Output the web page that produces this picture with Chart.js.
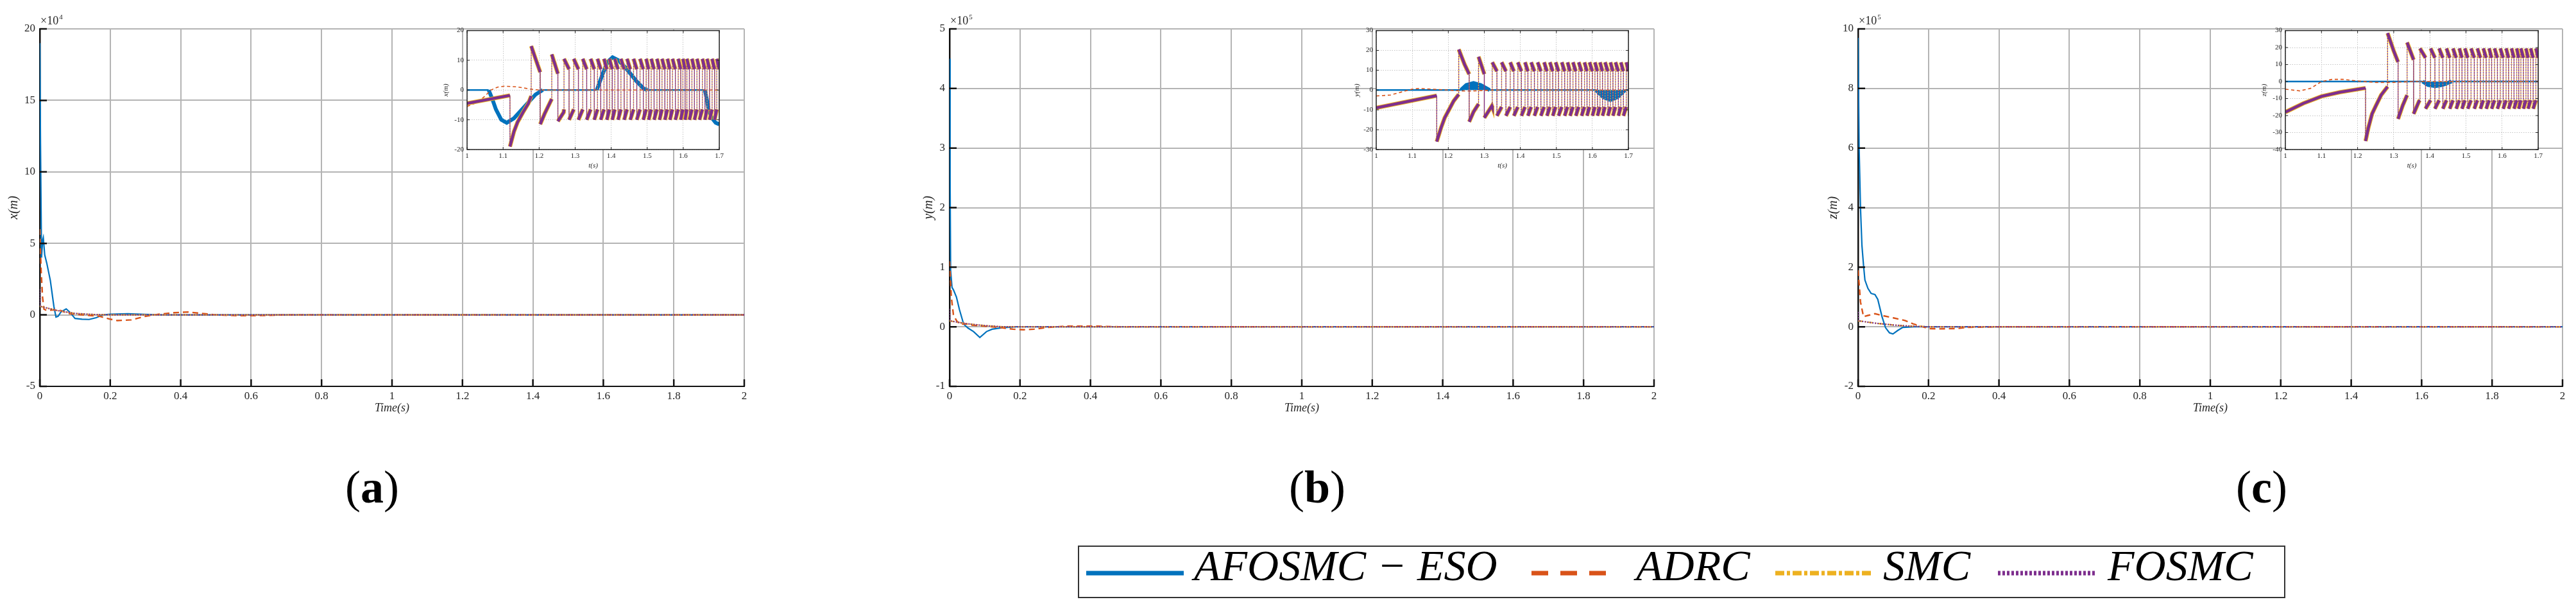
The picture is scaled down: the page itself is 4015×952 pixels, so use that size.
<!DOCTYPE html>
<html>
<head>
<meta charset="utf-8">
<script src="https://cdn.jsdelivr.net/npm/chart.js@4.4.1/dist/chart.umd.min.js"></script>
<style>
  html, body { margin: 0; padding: 0; background: #fff; width: 4015px; height: 952px; overflow: hidden; position: relative; font-family: "Liberation Serif", serif; }
  canvas { position: absolute; }
  .cap { position: absolute; font-size: 72px; line-height: 1; transform: translateX(-50%); color: #000; }
  #legend { position: absolute; left: 1680px; top: 850px; width: 1882px; height: 82px; border: 2px solid #333; box-sizing: border-box; }
  .lg { position: absolute; top: 847px; font-size: 68px; line-height: 1; font-style: italic; color: #000; white-space: nowrap; }
  svg.sw { position: absolute; top: 886px; height: 14px; }
</style>
</head>
<body>
<div id="legend"></div>
<svg class="sw" style="left:1693px;width:152px"><line x1="0" y1="7" x2="152" y2="7" stroke="#0072BD" stroke-width="7"/></svg>
<div class="lg" style="left:1861px">AFOSMC − ESO</div>
<svg class="sw" style="left:2387px;width:131px"><line x1="0" y1="7" x2="131" y2="7" stroke="#D95319" stroke-width="7" stroke-dasharray="26 19"/></svg>
<div class="lg" style="left:2550px">ADRC</div>
<svg class="sw" style="left:2767px;width:152px"><line x1="0" y1="7" x2="152" y2="7" stroke="#EDB120" stroke-width="7" stroke-dasharray="14 4 5 4"/></svg>
<div class="lg" style="left:2935px">SMC</div>
<svg class="sw" style="left:3114px;width:152px"><line x1="0" y1="7" x2="152" y2="7" stroke="#7E2F8E" stroke-width="7" stroke-dasharray="4 3"/></svg>
<div class="lg" style="left:3285px">FOSMC</div>
<div class="cap" style="left:580px;top:723px">(<b>a</b>)</div>
<div class="cap" style="left:2053px;top:723px">(<b>b</b>)</div>
<div class="cap" style="left:3525px;top:723px">(<b>c</b>)</div>
<script>
// ---- main plots, time axis 0..2 s (values in units of the axis multiplier)
const mainXTicks = [0, 0.2, 0.4, 0.6, 0.8, 1, 1.2, 1.4, 1.6, 1.8, 2];
const yTicksA = [-5, 0, 5, 10, 15, 20];
const yTicksB = [-1, 0, 1, 2, 3, 4, 5];
const yTicksC = [-2, 0, 2, 4, 6, 8, 10];

// (a) x, x10^4
const aBlueT = [0, 0.002, 0.005, 0.008, 0.010, 0.014, 0.020, 0.030, 0.040, 0.046, 0.052, 0.060, 0.075, 0.085, 0.100, 0.120, 0.140, 0.160, 0.180, 0.200, 0.250, 0.300, 0.350, 2];
const aBlueY = [19, 12, 4, 5.2, 5.4, 4.2, 3.6, 2.4, 0.6, -0.15, -0.1, 0.2, 0.42, 0.2, -0.25, -0.3, -0.32, -0.2, 0, 0.05, 0.08, 0.03, 0, 0];
const aOrgT = [0, 0.004, 0.008, 0.012, 0.02, 0.04, 0.06, 0.08, 0.12, 0.17, 0.2, 0.22, 0.26, 0.3, 0.34, 0.38, 0.42, 0.46, 0.5, 0.56, 0.62, 0.7, 2];
const aOrgY = [6, 3, 1.2, 0.4, 0.3, 0.35, 0.3, 0.1, 0, -0.1, -0.3, -0.4, -0.35, -0.1, 0.05, 0.15, 0.2, 0.1, 0, -0.05, -0.05, 0, 0];
const aSmcT = [0, 0.05, 0.1, 0.15, 0.2, 2];
const aSmcY = [0.6, 0.3, 0.1, 0.03, 0, 0];
const aFosT = [0, 0.0005, 0.05, 0.1, 0.15, 0.2, 2];
const aFosY = [1.8, 0.6, 0.3, 0.1, 0.03, 0, 0];

// (b) y, x10^5
const bBlueT = [0, 0.0015, 0.003, 0.007, 0.011, 0.0195, 0.028, 0.04, 0.052, 0.068, 0.086, 0.105, 0.121, 0.15, 0.19, 2];
const bBlueY = [4.5, 2.5, 0.95, 0.66, 0.62, 0.5, 0.29, 0.045, -0.02, -0.08, -0.18, -0.08, -0.04, -0.015, 0, 0];
const bOrgT = [0, 0.005, 0.011, 0.02, 0.03, 0.045, 0.06, 0.1, 0.14, 0.18, 0.21, 0.24, 0.28, 0.33, 0.37, 0.42, 0.48, 2];
const bOrgY = [1.1, 0.5, 0.2, 0.1, 0.04, 0.05, 0.03, 0.01, -0.01, -0.04, -0.05, -0.04, -0.01, 0.01, 0.01, 0.01, 0, 0];
const bSmcT = [0, 0.05, 0.1, 0.15, 2];
const bSmcY = [0.1, 0.05, 0.02, 0, 0];
const bFosT = [0, 0.0005, 0.05, 0.1, 0.15, 2];
const bFosY = [0.3, 0.1, 0.05, 0.02, 0, 0];

// (c) z, x10^5
const cBlueT = [0, 0.003, 0.007, 0.011, 0.0155, 0.0195, 0.028, 0.037, 0.048, 0.056, 0.068, 0.078, 0.089, 0.099, 0.113, 0.127, 0.16, 2];
const cBlueY = [9.7, 6.0, 3.97, 2.73, 2.07, 1.57, 1.29, 1.12, 1.08, 0.92, 0.34, -0.03, -0.2, -0.24, -0.12, -0.02, 0, 0];
const cOrgT = [0, 0.007, 0.0155, 0.028, 0.048, 0.068, 0.1, 0.133, 0.158, 0.2, 0.23, 0.28, 0.31, 0.4, 2];
const cOrgY = [1.9, 0.83, 0.34, 0.38, 0.44, 0.38, 0.3, 0.21, 0.09, -0.06, -0.07, -0.06, -0.02, 0, 0];
const cSmcT = [0, 0.05, 0.1, 0.15, 0.2, 2];
const cSmcY = [0.2, 0.12, 0.06, 0.02, 0, 0];
const cFosT = [0, 0.0005, 0.05, 0.1, 0.15, 0.2, 2];
const cFosY = [0.5, 0.2, 0.12, 0.06, 0.02, 0, 0];

// ---- zoomed insets, t = 1..1.7 s
const insetXTicks = [1, 1.1, 1.2, 1.3, 1.4, 1.5, 1.6, 1.7];
const insetYTicksA = [-20, -10, 0, 10, 20];
const insetYTicksB = [-30, -20, -10, 0, 10, 20, 30];
const insetYTicksC = [-40, -30, -20, -10, 0, 10, 20, 30];

const iaBlueT = [1, 1.06, 1.07, 1.08, 1.095, 1.11, 1.13, 1.16, 1.19, 1.21, 1.36, 1.375, 1.39, 1.404, 1.42, 1.44, 1.47, 1.49, 1.50, 1.66, 1.665, 1.67, 1.68, 1.69, 1.7];
const iaBlueY = [0, 0, -3, -6.5, -10, -11, -9.5, -5.5, -1.5, 0, 0, 5, 9.5, 11, 10, 7.5, 3, 0.5, 0, 0, -3, -6.5, -9.5, -11, -11.5];
const iaOrgT = [1, 1.028, 1.05, 1.066, 1.085, 1.104, 1.14, 1.175, 1.2, 1.7];
const iaOrgY = [-5.5, -4.2, -2, 0, 1, 1.3, 1.05, 0.35, 0, 0];
// sliding-mode chattering: start transient, then switching instants (up / down) and levels
const iaIrrT = [1, 1.119, 1.119, 1.13, 1.14, 1.155, 1.17, 1.178, 1.178, 1.19, 1.203, 1.203, 1.215, 1.235, 1.235, 1.252, 1.252, 1.268];
const iaIrrY = [-4.5, -1.8, -19, -14, -10.8, -7.5, -4.5, -2, 14.8, 10.5, 6, -11.5, -8, -3, 12, 5.5, -10.5, -7.5];
const iaUp = [1.269, 1.296, 1.321, 1.343, 1.362, 1.380, 1.395, 1.410, 1.427, 1.444, 1.462, 1.480, 1.497, 1.511, 1.527, 1.541, 1.556, 1.570, 1.586, 1.599, 1.610, 1.624, 1.638, 1.653, 1.666, 1.680, 1.693];
const iaDown = [1.283, 1.309, 1.332, 1.353, 1.371, 1.388, 1.403, 1.419, 1.436, 1.453, 1.471, 1.489, 1.504, 1.519, 1.534, 1.549, 1.563, 1.578, 1.593, 1.605, 1.617, 1.631, 1.645, 1.660, 1.673, 1.687, 1.700];
const iaLevels = [10.5, 7, -10, -6.5];

const ibBlueT = [1, 1.235, 1.25, 1.27, 1.29, 1.315, 1.61, 1.63, 1.65, 1.67, 1.69, 1.7];
const ibBlueY = [0, 0, 2.5, 3.5, 2.5, 0, 0, -3.5, -5, -3.5, 0, 0];
const ibOrgT = [1, 1.04, 1.07, 1.1, 1.12, 1.15, 1.2, 1.23, 1.26, 1.29, 1.32, 1.7];
const ibOrgY = [-3, -2.5, -1, 0.5, 0.8, 0.5, 0, -0.4, -0.5, -0.3, 0, 0];
const ibIrrT = [1, 1.168, 1.168, 1.18, 1.19, 1.2035, 1.215, 1.229, 1.229, 1.245, 1.258, 1.258, 1.27, 1.284, 1.284, 1.3, 1.3, 1.321];
const ibIrrY = [-9, -2.8, -26, -19, -14, -9.4, -5.5, -2.2, 20.5, 13, 8, -16, -11, -7, 16.8, 8, -14, -8];
const ibUp = [1.322, 1.348, 1.372, 1.393, 1.413, 1.430, 1.448, 1.466, 1.482, 1.498, 1.515, 1.531, 1.546, 1.562, 1.578, 1.592, 1.607, 1.621, 1.635, 1.650, 1.664, 1.679, 1.694];
const ibDown = [1.335, 1.360, 1.382, 1.403, 1.421, 1.439, 1.457, 1.474, 1.490, 1.506, 1.523, 1.538, 1.554, 1.570, 1.585, 1.600, 1.614, 1.628, 1.643, 1.657, 1.672, 1.686, 1.700];
const ibLevels = [14, 9.5, -13, -8.5];

const icBlueT = [1, 1.38, 1.395, 1.415, 1.435, 1.46, 1.7];
const icBlueY = [0, 0, -2, -2.7, -2, 0, 0];
const icOrgT = [1, 1.04, 1.07, 1.1, 1.13, 1.16, 1.2, 1.25, 1.3, 1.35, 1.7];
const icOrgY = [-4.5, -5.5, -4, 0, 1.3, 1.3, 0.3, -0.5, -0.5, 0, 0];
const icIrrT = [1, 1.05, 1.1, 1.15, 1.222, 1.222, 1.23, 1.24, 1.25, 1.265, 1.283, 1.283, 1.3, 1.312, 1.312, 1.325, 1.337, 1.337, 1.355, 1.355, 1.37];
const icIrrY = [-18, -12.8, -8.7, -6.3, -3.8, -35, -27, -19, -14.5, -8, -3, 28.5, 18, 11.5, -22, -14, -8, 23, 12.8, -19, -11.6];
const icUp = [1.3726, 1.402, 1.4256, 1.446, 1.464, 1.4815, 1.497, 1.514, 1.5315, 1.548, 1.564, 1.579, 1.595, 1.611, 1.626, 1.6405, 1.652, 1.666, 1.679, 1.6935];
const icDown = [1.388, 1.414, 1.436, 1.455, 1.473, 1.489, 1.505, 1.523, 1.540, 1.556, 1.571, 1.587, 1.603, 1.618, 1.633, 1.646, 1.659, 1.672, 1.686, 1.7];
const icLevels = [19.5, 14, -16, -11];

const BLUE = '#0072BD', ORANGE = '#D95319', YELLOW = '#EDB120', PURPLE = '#7E2F8E';

Chart.defaults.font.family = '"Liberation Serif", "Times New Roman", serif';
Chart.defaults.color = '#262626';

// inward tick marks, optional box and white plot background (insets)
Chart.register({
  id: 'inTicks',
  defaults: { len: 10, width: 2, color: '#111', box: false },
  beforeDraw(chart, args, o) {
    if (!o.box) return;
    const a = chart.chartArea, ctx = chart.ctx;
    ctx.save();
    ctx.fillStyle = '#fff';
    ctx.fillRect(a.left, a.top, a.width, a.height);
    ctx.restore();
  },
  afterDraw(chart, args, o) {
    const {ctx, chartArea: a} = chart;
    const x = chart.scales.x, y = chart.scales.y;
    ctx.save();
    ctx.strokeStyle = o.color;
    ctx.lineWidth = o.width;
    ctx.beginPath();
    x.ticks.forEach(t => {
      const px = x.getPixelForValue(t.value);
      ctx.moveTo(px, a.bottom); ctx.lineTo(px, a.bottom - o.len);
      if (o.box) { ctx.moveTo(px, a.top); ctx.lineTo(px, a.top + o.len); }
    });
    y.ticks.forEach(t => {
      const py = y.getPixelForValue(t.value);
      ctx.moveTo(a.left, py); ctx.lineTo(a.left + o.len, py);
      if (o.box) { ctx.moveTo(a.right, py); ctx.lineTo(a.right - o.len, py); }
    });
    ctx.stroke();
    if (o.box) {
      ctx.lineWidth = 1.5;
      ctx.strokeRect(a.left, a.top, a.width, a.height);
    }
    ctx.restore();
  }
});

// "x10^n" multiplier above the y axis
Chart.register({
  id: 'expLabel',
  defaults: { exp: '' },
  afterDraw(chart, args, o) {
    if (!o.exp) return;
    const {ctx, chartArea: a} = chart;
    ctx.save();
    ctx.fillStyle = '#262626';
    ctx.textBaseline = 'alphabetic';
    ctx.font = '18px "Liberation Serif"';
    ctx.fillText('×10', a.left + 1, a.top - 7);
    const w = ctx.measureText('×10').width;
    ctx.font = '11px "Liberation Serif"';
    ctx.fillText(o.exp, a.left + 2 + w, a.top - 15);
    ctx.restore();
  }
});

function pts(t, v) { return t.map((x, i) => ({x: x, y: v[i]})); }

function chatter(irrT, irrY, ups, downs, lv) {
  const p = pts(irrT, irrY);
  ups.forEach((u, i) => {
    p.push({x: u, y: lv[3]}, {x: u, y: lv[0]}, {x: downs[i], y: lv[1]}, {x: downs[i], y: lv[2]});
  });
  return p;
}

function addCanvas(left, top, w, h) {
  const c = document.createElement('canvas');
  c.width = w; c.height = h;
  c.style.left = left + 'px'; c.style.top = top + 'px';
  c.style.width = w + 'px'; c.style.height = h + 'px';
  document.body.appendChild(c);
  return c;
}

function line(data, color, width, dash, order) {
  return { data: data, borderColor: color, borderWidth: width, borderDash: dash, pointRadius: 0, tension: 0, fill: false, order: order };
}

function fixTicks(arr) { return s => { s.ticks = arr.map(v => ({value: v})); }; }

function mainChart(p) {
  const cv = addCanvas(p.axis - 62, 0, 1180, 660);
  new Chart(cv, {
    type: 'line',
    data: { datasets: [
      line(p.blue, BLUE, 2.2, [], 4),
      line(p.org, ORANGE, 2.4, [9, 6], 3),
      line(p.smc, YELLOW, 2.2, [8, 3, 2, 3], 2),
      line(p.fos, PURPLE, 2.2, [2, 2], 1)
    ]},
    options: {
      responsive: false, animation: false, devicePixelRatio: 1,
      layout: { padding: { top: 45, right: 20, left: 0, bottom: 0 } },
      plugins: {
        legend: { display: false }, tooltip: { enabled: false },
        inTicks: { len: 11, width: 2.5, color: '#111', box: false },
        expLabel: { exp: p.exp }
      },
      scales: {
        x: {
          type: 'linear', min: 0, max: 2,
          afterFit: s => { s.height = 58; },
          afterBuildTicks: fixTicks(mainXTicks),
          ticks: { font: { size: 17 }, padding: 5, maxRotation: 0, autoSkip: false, callback: v => String(v) },
          grid: { color: '#b4b4b4', lineWidth: 2, drawTicks: false },
          border: { display: true, color: '#111', width: 2 },
          title: { display: true, text: 'Time(s)', font: { size: 18, style: 'italic' }, padding: { top: 0, bottom: 13 } }
        },
        y: {
          type: 'linear', min: p.yTicks[0], max: p.yTicks[p.yTicks.length - 1],
          afterFit: s => { s.width = 62; },
          afterBuildTicks: fixTicks(p.yTicks),
          ticks: { font: { size: 17 }, padding: 7, autoSkip: false, callback: v => String(v) },
          grid: { color: '#b4b4b4', lineWidth: 2, drawTicks: false },
          border: { display: true, color: '#111', width: 2.5 },
          title: { display: true, text: p.ylabel, font: { size: 20, style: 'italic' }, padding: { top: p.titlePad, bottom: 0 } }
        }
      }
    }
  });
}

function insetChart(p) {
  const w = p.right - p.left;
  const cv = addCanvas(p.left - 40, 36, 40 + w + 8, 229);
  const vertical = c => c.p0.parsed.x === c.p1.parsed.x;
  const thickBlue = c => (c.p0.parsed.y !== 0 || c.p1.parsed.y !== 0) ? 6 : 2.5;
  new Chart(cv, {
    type: 'line',
    data: { datasets: [
      { data: p.blue, borderColor: BLUE, backgroundColor: BLUE, borderWidth: 2.5, pointRadius: 0, tension: 0,
        fill: p.fillBlue ? 'origin' : false, order: 4, segment: { borderWidth: thickBlue } },
      line(p.org, ORANGE, 1.6, [5, 4], 3),
      { data: p.chat, borderColor: YELLOW, borderWidth: 6.5, pointRadius: 0, tension: 0, fill: false, order: 2,
        segment: { borderWidth: c => vertical(c) ? 1.3 : 6.5, borderDash: c => vertical(c) ? [2, 2] : [] } },
      { data: p.chat, borderColor: PURPLE, borderWidth: 4.5, pointRadius: 0, tension: 0, fill: false, order: 1,
        borderDashOffset: 2,
        segment: { borderWidth: c => vertical(c) ? 1.3 : 4.5, borderDash: c => vertical(c) ? [2, 2] : [] } }
    ]},
    options: {
      responsive: false, animation: false, devicePixelRatio: 1,
      layout: { padding: { top: 6, right: 8, left: 0, bottom: 0 } },
      plugins: {
        legend: { display: false }, tooltip: { enabled: false },
        inTicks: { len: 4, width: 1, color: '#222', box: true },
        expLabel: { exp: '' }
      },
      scales: {
        x: {
          type: 'linear', min: 1, max: 1.7,
          afterFit: s => { s.height = 32; },
          afterBuildTicks: fixTicks(insetXTicks),
          ticks: { font: { size: 11 }, padding: 4, maxRotation: 0, autoSkip: false, callback: v => String(v) },
          grid: { color: '#c4c4c4', lineWidth: 1, drawTicks: false },
          border: { display: false, dash: [1.5, 2] },
          title: { display: true, text: 't(s)', font: { size: 11, style: 'italic' }, padding: { top: 0, bottom: 0 } }
        },
        y: {
          type: 'linear', min: p.yTicks[0], max: p.yTicks[p.yTicks.length - 1],
          afterFit: s => { s.width = 40; },
          afterBuildTicks: fixTicks(p.yTicks),
          ticks: { font: { size: 11 }, padding: 5, autoSkip: false, callback: v => String(v) },
          grid: { color: '#c4c4c4', lineWidth: 1, drawTicks: false },
          border: { display: false, dash: [1.5, 2] },
          title: { display: true, text: p.ylabel, font: { size: 11, style: 'italic' }, padding: { top: p.titlePad, bottom: 0 } }
        }
      }
    }
  });
}

mainChart({ axis: 62, yTicks: yTicksA, ylabel: 'x(m)', exp: '4', titlePad: 10,
  blue: pts(aBlueT, aBlueY), org: pts(aOrgT, aOrgY), smc: pts(aSmcT, aSmcY), fos: pts(aFosT, aFosY) });
mainChart({ axis: 1480, yTicks: yTicksB, ylabel: 'y(m)', exp: '5', titlePad: 18,
  blue: pts(bBlueT, bBlueY), org: pts(bOrgT, bOrgY), smc: pts(bSmcT, bSmcY), fos: pts(bFosT, bFosY) });
mainChart({ axis: 2896, yTicks: yTicksC, ylabel: 'z(m)', exp: '5', titlePad: 12,
  blue: pts(cBlueT, cBlueY), org: pts(cOrgT, cOrgY), smc: pts(cSmcT, cSmcY), fos: pts(cFosT, cFosY) });

insetChart({ left: 728, right: 1124, yTicks: insetYTicksA, ylabel: 'x(m)', titlePad: 1, fillBlue: false,
  blue: pts(iaBlueT, iaBlueY), org: pts(iaOrgT, iaOrgY), chat: chatter(iaIrrT, iaIrrY, iaUp, iaDown, iaLevels) });
insetChart({ left: 2145, right: 2541, yTicks: insetYTicksB, ylabel: 'y(m)', titlePad: 4, fillBlue: true,
  blue: pts(ibBlueT, ibBlueY), org: pts(ibOrgT, ibOrgY), chat: chatter(ibIrrT, ibIrrY, ibUp, ibDown, ibLevels) });
insetChart({ left: 3562, right: 3959, yTicks: insetYTicksC, ylabel: 'z(m)', titlePad: 1, fillBlue: true,
  blue: pts(icBlueT, icBlueY), org: pts(icOrgT, icOrgY), chat: chatter(icIrrT, icIrrY, icUp, icDown, icLevels) });
</script>
</body>
</html>
